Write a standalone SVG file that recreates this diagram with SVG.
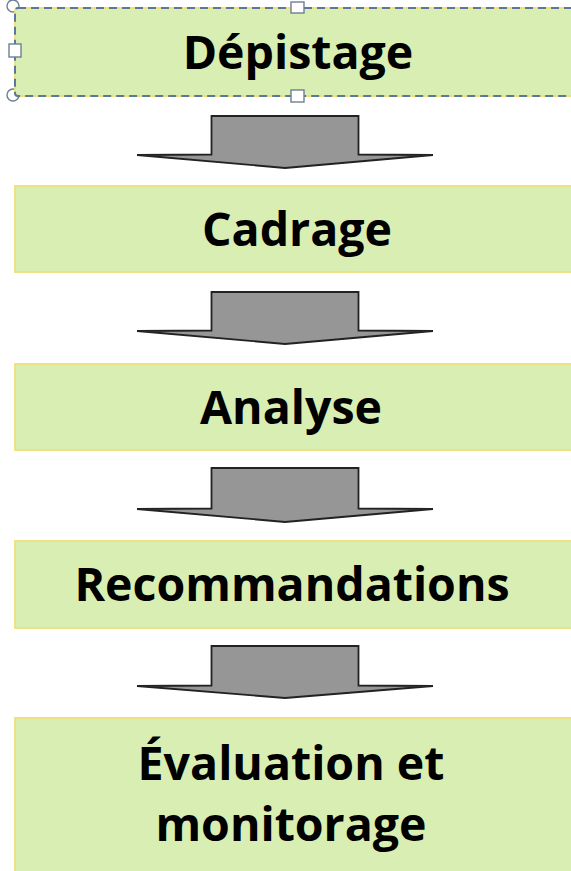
<svg xmlns="http://www.w3.org/2000/svg" width="571" height="871" viewBox="0 0 571 871">
<style>
.box{fill:#d9eeb2;stroke:#efe07a;stroke-width:1.8}
.lbl{font-family:"Open Sans","Liberation Sans",sans-serif;font-weight:bold;font-size:46.5px;fill:#000;text-anchor:middle}
.arr{fill:#969696;stroke:#222;stroke-width:1.8;stroke-linejoin:miter}
.sel{fill:none;stroke:#5a7898;stroke-width:2;stroke-dasharray:8 5}
.hdl{fill:#fff;stroke:#6b7f94;stroke-width:1.4}
</style>
<rect width="571" height="871" fill="#fff"/>
<g id="connectors">
<path class="arr" d="M211.5,116 L358.5,116 L358.5,154.5 L433,155 L285,168 L137,155 L211.5,154.5 Z"/>
<path class="arr" d="M211.5,292 L358.5,292 L358.5,330.5 L433,331 L285,344 L137,331 L211.5,330.5 Z"/>
<path class="arr" d="M211.5,468 L358.5,468 L358.5,508.5 L433,509 L285,522 L137,509 L211.5,508.5 Z"/>
<path class="arr" d="M211.5,646 L358.5,646 L358.5,685.5 L433,686 L285,698 L137,686 L211.5,685.5 Z"/>
</g>
<g id="n1">
<circle class="hdl" cx="13" cy="6" r="6"/>
<circle class="hdl" cx="13" cy="95" r="6"/>
<rect class="box" x="15" y="8" width="566" height="88" rx="3"/>
<rect class="sel" x="15" y="8" width="566" height="88" rx="3"/>
<rect class="hdl" x="9" y="44" width="12" height="13"/>
<rect class="hdl" x="291" y="2" width="13" height="11"/>
<rect class="hdl" x="291" y="90" width="13" height="12"/>
<text class="lbl" x="298" y="69">Dépistage</text>
</g>
<g id="n2">
<rect class="box" x="15" y="186" width="566" height="86"/>
<text class="lbl" x="297" y="246">Cadrage</text>
</g>
<g id="n3">
<rect class="box" x="15" y="364" width="566" height="86"/>
<text class="lbl" x="291" y="424">Analyse</text>
</g>
<g id="n4">
<rect class="box" x="15" y="541" width="566" height="87"/>
<text class="lbl" x="292" y="601">Recommandations</text>
</g>
<g id="n5">
<rect class="box" x="15" y="718" width="566" height="170"/>
<text class="lbl" x="291" y="780">Évaluation et</text>
<text class="lbl" x="291" y="841">monitorage</text>
</g>
</svg>
